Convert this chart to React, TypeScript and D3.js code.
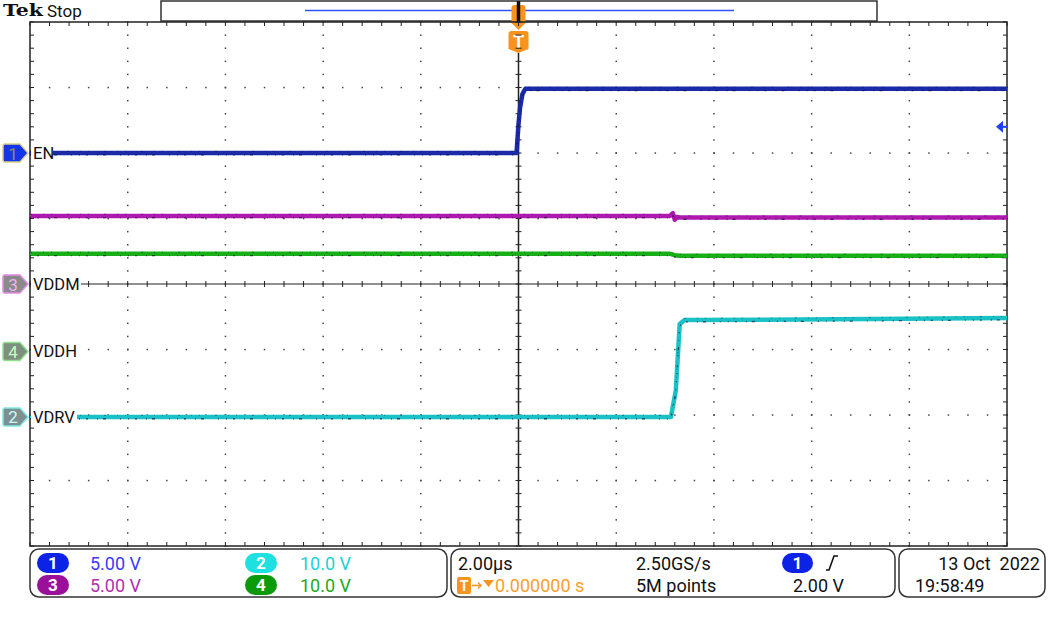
import React from 'react';
import * as d3 from 'd3';

// ---- data (time in µs, values in volts) ----
const timeRange = [-10, 10];
const divRange = [-4, 4];

const enTime = [-10, -0.04, 0.0, 0.03, 0.08, 0.14, 10];
const enVolt = [0, 0, 2.2, 3.4, 4.5, 4.9, 4.9];

const vddmTime = [-10, 3.1, 3.16, 3.2, 3.24, 3.3, 10];
const vddmVolt = [5.2, 5.2, 5.4, 4.9, 5.12, 5.08, 5.08];

const vddhTime = [-10, 3.1, 3.2, 3.3, 10];
const vddhVolt = [14.9, 14.9, 14.7, 14.6, 14.6];

const vdrvTime = [-10, 3.12, 3.16, 3.22, 3.25, 3.3, 3.4, 6.5, 10];
const vdrvVolt = [0, 0, 1.6, 4.0, 7.8, 14.2, 14.8, 14.9, 15.1];

const channels = [
  { id: '1', label: 'EN', pos: 2.0, scale: 5, t: enTime, v: enVolt, color: '#1b2aa8', labelW: 22 },
  { id: '3', label: 'VDDM', pos: 0.0, scale: 5, t: vddmTime, v: vddmVolt, color: '#b019b0', labelW: 50 },
  { id: '4', label: 'VDDH', pos: -1.03, scale: 10, t: vddhTime, v: vddhVolt, color: '#17b017', labelW: 50 },
  { id: '2', label: 'VDRV', pos: -2.03, scale: 10, t: vdrvTime, v: vdrvVolt, color: '#19c2c6', labelW: 46 },
];

const markerStyles: Record<string, { fill: string; stroke: string; text: string }> = {
  '1': { fill: '#1535e8', stroke: '#d8d080', text: '#8a8a70' },
  '3': { fill: '#8a8a8a', stroke: '#e58be5', text: '#f0b0f0' },
  '4': { fill: '#7f8f7f', stroke: '#8fe08f', text: '#c0ffc0' },
  '2': { fill: '#7f8f8f', stroke: '#7fe8e8', text: '#c0ffff' },
};

const legendRows = [
  { id: '1', text: '5.00 V', badge: '#0c22e6', color: '#3a3aff' },
  { id: '2', text: '10.0 V', badge: '#1fe0e0', color: '#20d0d8' },
  { id: '3', text: '5.00 V', badge: '#9a109a', color: '#b030b0' },
  { id: '4', text: '10.0 V', badge: '#0a9a0a', color: '#20a820' },
];

const triggerLevel = 2.0; // V on CH1
const FONT = 'Roboto, "Liberation Sans", sans-serif';

export default function App() {
  const L = 30, R = 1007, T = 22, B = 546;
  const x = d3.scaleLinear().domain(timeRange).range([L, R]);
  const yd = d3.scaleLinear().domain(divRange).range([B, T]);
  const minorX = d3.range(-10, 10.001, 0.4);
  const minorY = d3.range(-4, 4.001, 0.2);
  const majorX = d3.range(-8, 8.001, 2).filter((d) => Math.abs(d) > 1e-9);
  const majorY = d3.range(-3, 3.001, 1).filter((d) => Math.abs(d) > 1e-9);

  const dots: JSX.Element[] = [];
  majorX.forEach((mx, i) =>
    minorY.forEach((my, j) =>
      dots.push(<rect key={`vx${i}-${j}`} x={x(mx) - 0.7} y={yd(my) - 0.7} width={1.5} height={1.5} fill="#444" />)
    )
  );
  majorY.forEach((my, i) =>
    minorX.forEach((mx, j) =>
      dots.push(<rect key={`hy${i}-${j}`} x={x(mx) - 0.7} y={yd(my) - 0.7} width={1.5} height={1.5} fill="#444" />)
    )
  );

  const ticks: JSX.Element[] = [];
  minorX.forEach((mx, j) => {
    const xx = x(mx);
    ticks.push(<line key={`tt${j}`} x1={xx} x2={xx} y1={T} y2={T + 4} stroke="#222" />);
    ticks.push(<line key={`tb${j}`} x1={xx} x2={xx} y1={B} y2={B - 4} stroke="#222" />);
    ticks.push(<line key={`tc${j}`} x1={xx} x2={xx} y1={yd(0) - 3} y2={yd(0) + 3} stroke="#222" />);
  });
  minorY.forEach((my, j) => {
    const yy = yd(my);
    ticks.push(<line key={`tl${j}`} x1={L} x2={L + 4} y1={yy} y2={yy} stroke="#222" />);
    ticks.push(<line key={`tr${j}`} x1={R} x2={R - 4} y1={yy} y2={yy} stroke="#222" />);
    ticks.push(<line key={`tv${j}`} x1={x(0) - 3} x2={x(0) + 3} y1={yy} y2={yy} stroke="#222" />);
  });

  const traces = channels.map((ch) => {
    const y = (v: number) => yd(ch.pos + v / ch.scale);
    const pts: [number, number][] = ch.t.map((t, i) => [x(t), y(ch.v[i])]);
    const line = d3.line();
    const d = line(pts) || '';
    return (
      <g key={`tr${ch.id}`}>
        <path d={d} fill="none" stroke={ch.color} strokeWidth={4.5} strokeLinejoin="round" />
        <path d={d} fill="none" stroke="#101030" strokeOpacity={0.7} strokeWidth={1.3}
          strokeDasharray="1 6 2 9 1 5 3 14 1 7" transform="translate(0,1.8)" />
        <path d={d} fill="none" stroke="#101030" strokeOpacity={0.45} strokeWidth={1}
          strokeDasharray="2 11 1 7 1 15" transform="translate(0,-1.6)" />
      </g>
    );
  });

  const markers = channels.map((ch) => {
    const yy = yd(ch.pos);
    const ms = markerStyles[ch.id];
    return (
      <g key={`mk${ch.id}`}>
        <rect x={L + 1} y={yy - 9} width={ch.labelW} height={18} fill="white" />
        <path d={`M5,${yy - 9} H20 L28,${yy} L20,${yy + 9} H5 Q3,${yy + 9} 3,${yy + 7} V${yy - 7} Q3,${yy - 9} 5,${yy - 9} Z`}
          fill={ms.fill} stroke={ms.stroke} strokeWidth={1.5} />
        <text x={13} y={yy + 6.5} fontSize={17} fontFamily={FONT} fill={ms.text} textAnchor="middle">{ch.id}</text>
        <text x={33} y={yy + 6} fontSize={16.5} fontFamily={FONT} fill="#111">{ch.label}</text>
      </g>
    );
  });

  const trigY = yd(channels[0].pos + triggerLevel / channels[0].scale);
  const xc = x(0);

  return (
    <svg width={1050} height={628} style={{ position: 'absolute', left: 0, top: 0, background: 'white' }}
      xmlns="http://www.w3.org/2000/svg">
      <rect x={0} y={0} width={1050} height={628} fill="white" />
      {/* header */}
      <text x={3} y={16} fontSize={17} fontWeight="bold" fontFamily='"DejaVu Serif", "Liberation Serif", serif'
        textLength={40} lengthAdjust="spacingAndGlyphs" fill="#111">Tek</text>
      <text x={47} y={16.5} fontSize={17} fontFamily={FONT} fill="#111">Stop</text>
      <rect x={161} y={1} width={716} height={20} fill="white" stroke="#333" strokeWidth={1.5} />
      <line x1={305} x2={734} y1={10.5} y2={10.5} stroke="#3350ff" strokeWidth={1.5} />
      <path d={`M${xc - 7},8 Q${xc - 7},5 ${xc - 4},5 H${xc + 4} Q${xc + 7},5 ${xc + 7},8 V23 L${xc},30 L${xc - 7},23 Z`} fill="#f7941d" />
      <line x1={xc} x2={xc} y1={1} y2={22} stroke="#111" strokeWidth={3.5} />
      <path d={`M${xc - 10},34 Q${xc - 10},31 ${xc - 7},31 H${xc + 7} Q${xc + 10},31 ${xc + 10},34 V49 L${xc},53 L${xc - 10},49 Z`} fill="#f7941d" />
      <text x={xc} y={48} fontSize={18} fontWeight="bold" fontFamily={FONT} fill="white" textAnchor="middle">T</text>

      {/* graticule */}
      {dots}
      <line x1={L} x2={R} y1={yd(0)} y2={yd(0)} stroke="#222" strokeWidth={1.2} />
      <line x1={xc} x2={xc} y1={53} y2={B} stroke="#222" strokeWidth={1.5} />
      {ticks}
      <rect x={L} y={T} width={R - L} height={B - T} fill="none" stroke="#222" strokeWidth={1.5} />

      {traces}
      {markers}

      {/* trigger level arrow */}
      <path d={`M996,${trigY} L1003,${trigY - 6} V${trigY + 6} Z`} fill="#2040ff" />
      <line x1={1002} x2={1007} y1={trigY} y2={trigY} stroke="#2040ff" strokeWidth={2} />

      {/* status bar */}
      <rect x={30} y={549} width={417} height={48} rx={9} fill="white" stroke="#333" strokeWidth={1.5} />
      <rect x={451} y={549} width={444} height={48} rx={9} fill="white" stroke="#333" strokeWidth={1.5} />
      <rect x={899} y={549} width={146} height={48} rx={9} fill="white" stroke="#333" strokeWidth={1.5} />

      {legendRows.map((r, i) => {
        const col = i % 2, row = Math.floor(i / 2);
        const bx = col === 0 ? 37 : 245;
        const tx = col === 0 ? 90 : 300;
        const cy = row === 0 ? 563 : 585;
        return (
          <g key={`lg${r.id}`}>
            <rect x={bx} y={cy - 10} width={32} height={20} rx={10} fill={r.badge} />
            <text x={bx + 16} y={cy + 6} fontSize={17} fontWeight="bold" fontFamily={FONT} fill="white" textAnchor="middle">{r.id}</text>
            <text x={tx} y={cy + 7} fontSize={18} fontFamily={FONT} fill={r.color}>{r.text}</text>
          </g>
        );
      })}

      <text x={458} y={570} fontSize={18} fontFamily={FONT} fill="#111">2.00µs</text>
      <text x={636} y={570} fontSize={18} fontFamily={FONT} fill="#111">2.50GS/s</text>
      <rect x={782} y={553} width={31} height={20} rx={10} fill="#0c22e6" />
      <text x={797.5} y={569} fontSize={17} fontWeight="bold" fontFamily={FONT} fill="white" textAnchor="middle">1</text>
      <path d="M826,570 H829 L834,556 H838" fill="none" stroke="#111" strokeWidth={1.6} />

      <rect x={457} y={577} width={14} height={17} rx={2} fill="#f7941d" />
      <text x={464} y={591} fontSize={14} fontWeight="bold" fontFamily={FONT} fill="white" textAnchor="middle">T</text>
      <line x1={472} x2={480} y1={585.5} y2={585.5} stroke="#f7941d" strokeWidth={1.6} />
      <path d="M478,582.5 L481,585.5 L478,588.5" fill="none" stroke="#f7941d" strokeWidth={1.4} />
      <path d="M483,580 H494 L488.5,587 Z" fill="#f7941d" />
      <text x={495} y={592} fontSize={18} fontFamily={FONT} fill="#f7a030">0.000000 s</text>
      <text x={636} y={592} fontSize={18} fontFamily={FONT} fill="#111">5M points</text>
      <text x={793} y={592} fontSize={18} fontFamily={FONT} fill="#111">2.00 V</text>

      <text x={1040} y={570} fontSize={18} fontFamily={FONT} fill="#111" textAnchor="end" xmlSpace="preserve">13 Oct  2022</text>
      <text x={915} y={592} fontSize={18} fontFamily={FONT} fill="#111">19:58:49</text>
    </svg>
  );
}
